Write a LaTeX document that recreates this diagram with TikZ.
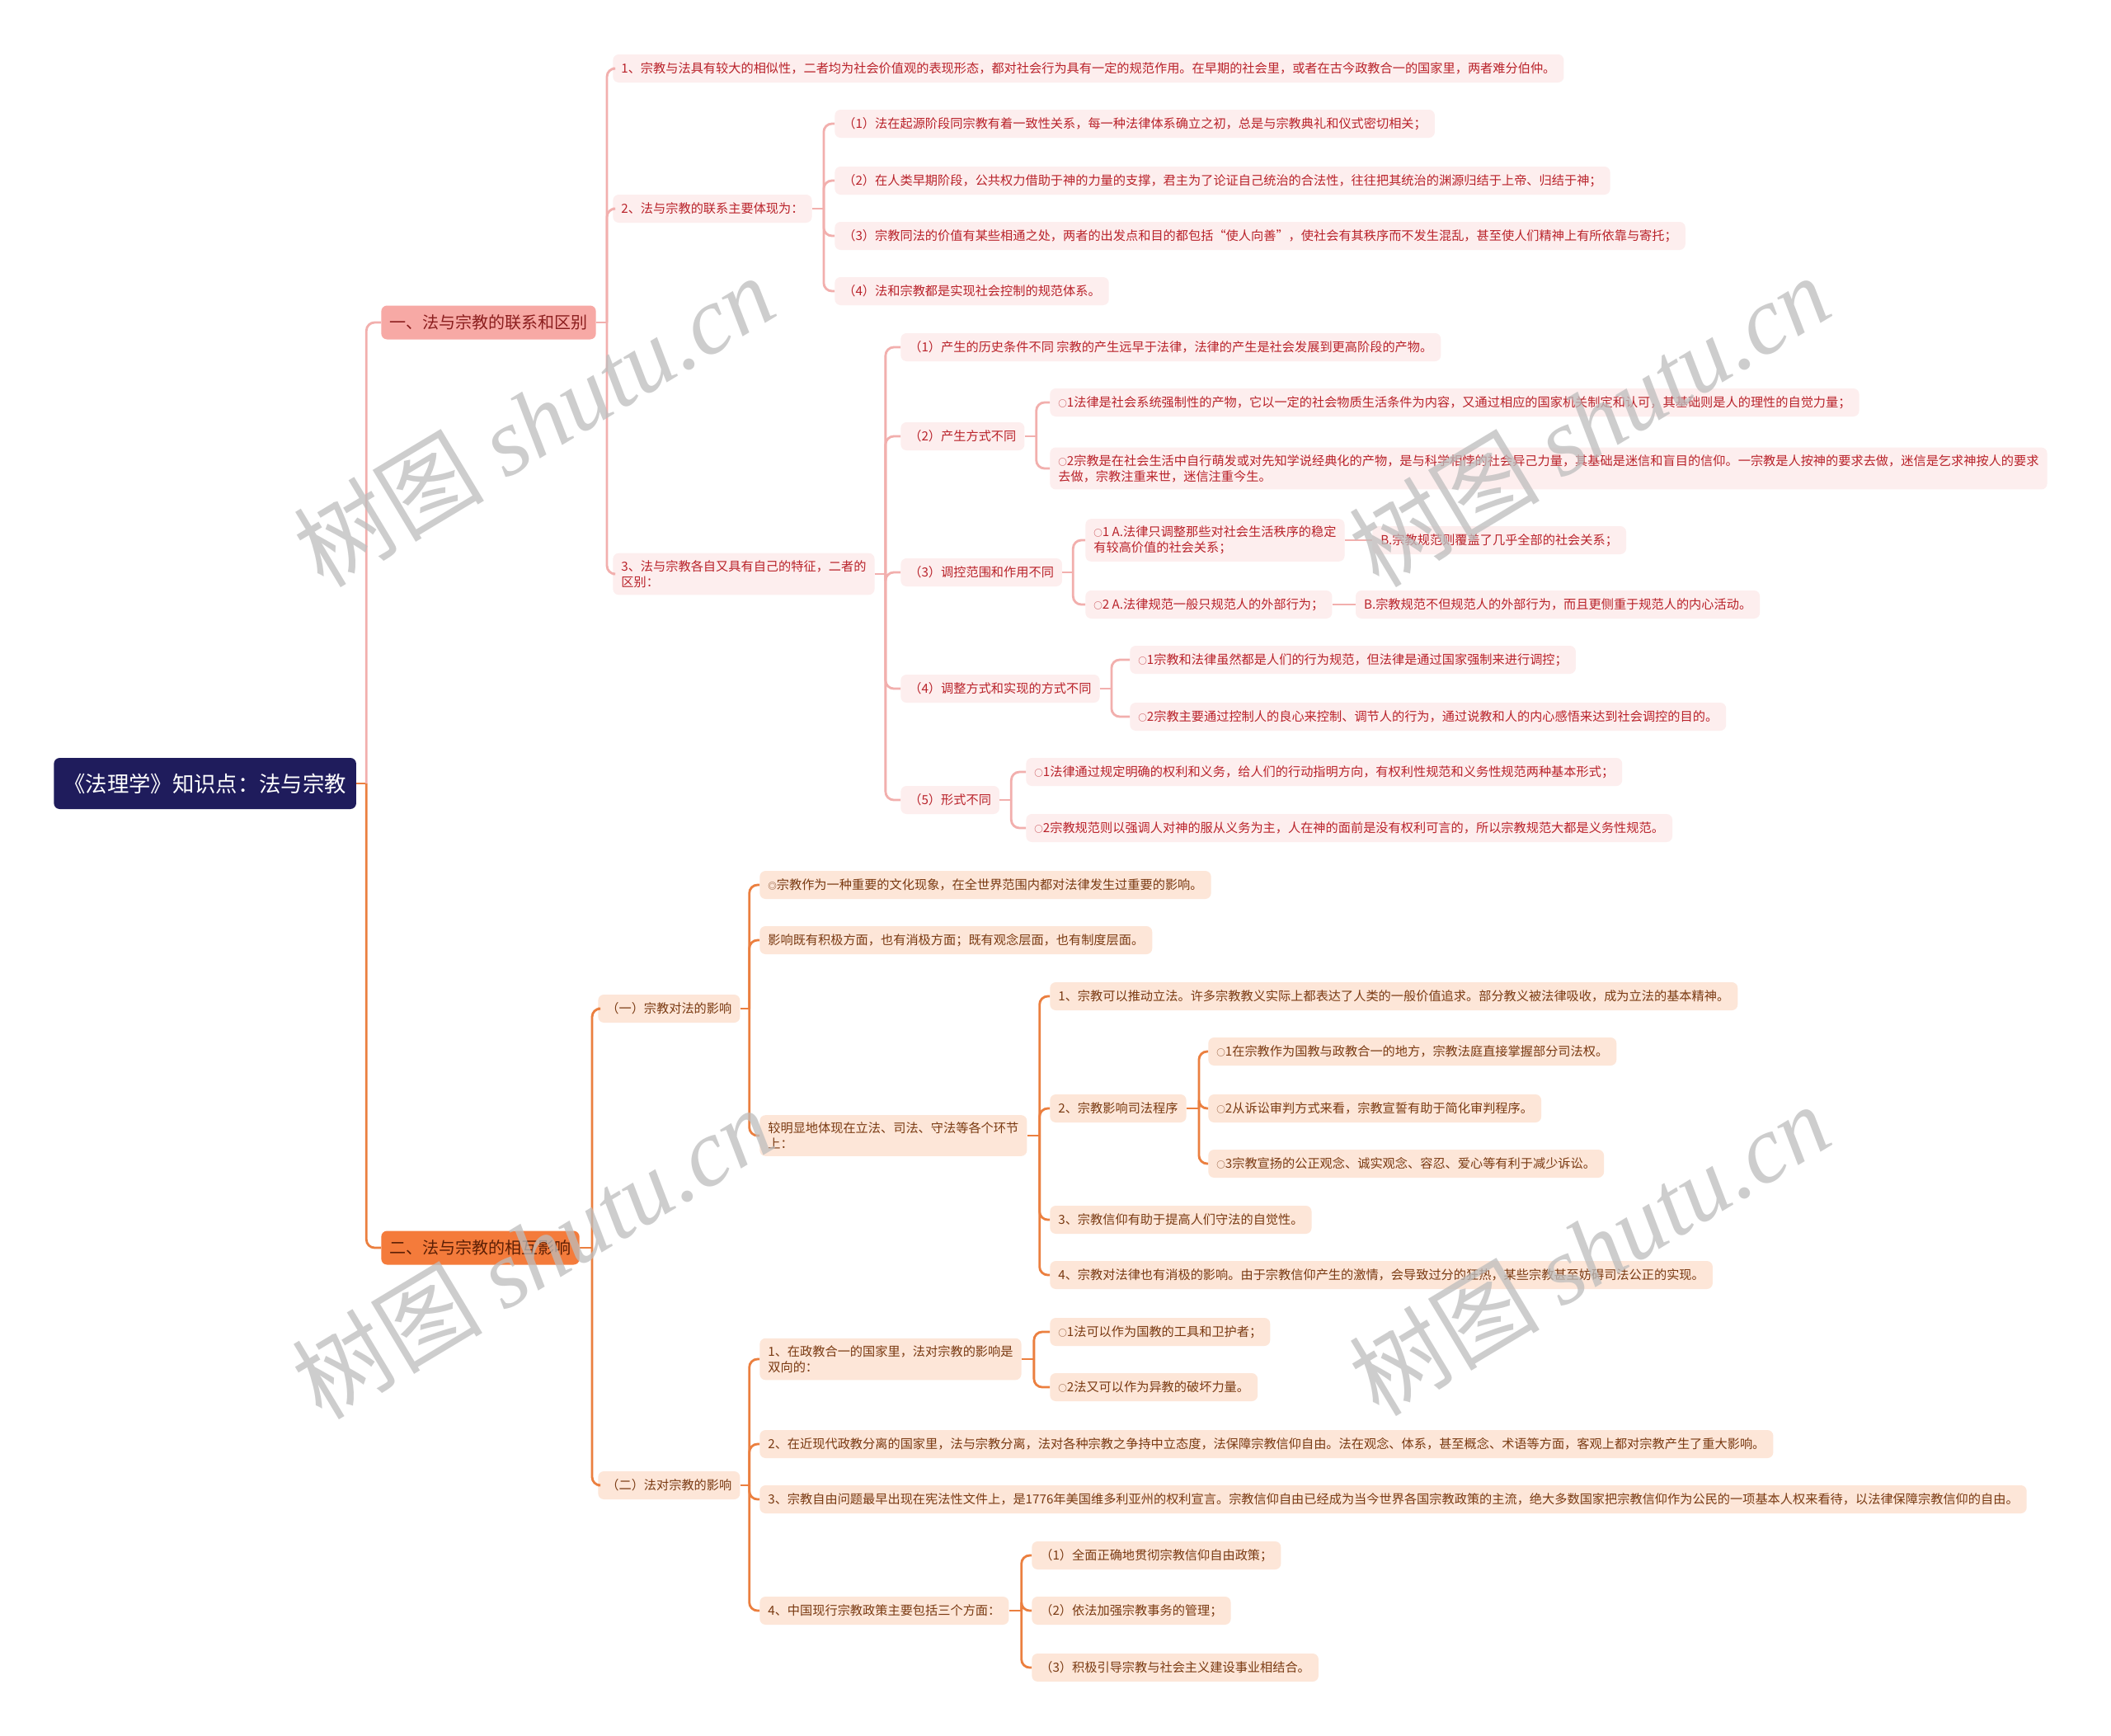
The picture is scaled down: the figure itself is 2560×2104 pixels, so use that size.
\documentclass[tikz,border=0pt]{standalone}
\usepackage{fontspec}
\setmainfont{Noto Sans CJK SC}
\newfontfamily\wmfont{Liberation Serif}
\usetikzlibrary{positioning}
\usepackage{xcolor}

\definecolor{rootnavy}{HTML}{1F1C5C}
\definecolor{topicpink}{HTML}{F7A9A5}
\definecolor{topicpinktext}{HTML}{8B1E1E}
\definecolor{leafpink}{HTML}{FDEEEE}
\definecolor{leafpinktext}{HTML}{B9222A}
\definecolor{linepink}{HTML}{F2AFAD}
\definecolor{topicorange}{HTML}{F47B3B}
\definecolor{topicorangetext}{HTML}{5C1F05}
\definecolor{leafpeach}{HTML}{FDE6D8}
\definecolor{leafpeachtext}{HTML}{7A3A12}
\definecolor{lineorange}{HTML}{EB7F3F}
\definecolor{wmgray}{HTML}{BDBDBD}

\newcommand\smallcirc{{\fontsize{6pt}{6pt}\selectfont ○}}

\begin{document}
\begin{tikzpicture}[
        x=0.02cm, y=-0.02cm,
        % box styles
        rootbox/.style={rectangle, rounded corners=4pt, fill=rootnavy, text=white, anchor=west, minimum height=1.24cm, inner xsep=0.24cm, font=\fontsize{15pt}{18pt}\selectfont},
        topicA/.style={rectangle, rounded corners=4pt, fill=topicpink, text=topicpinktext, anchor=west, minimum height=0.82cm, inner xsep=0.2cm, font=\fontsize{11.4pt}{14pt}\selectfont},
        topicB/.style={topicA, fill=topicorange, text=topicorangetext},
        leafA/.style={rectangle, rounded corners=4pt, fill=leafpink, text=leafpinktext, anchor=west, align=left, minimum height=0.68cm, inner xsep=0.2cm, inner ysep=0.17cm, font=\fontsize{8.65pt}{11pt}\selectfont},
        leafB/.style={leafA, fill=leafpeach, text=leafpeachtext},
        % connector styles
        lineA/.style={draw=linepink, line width=1.6pt, rounded corners=0.2cm},
        lineB/.style={draw=lineorange, line width=1.6pt, rounded corners=0.2cm},
        watermark/.style={text=wmgray, text opacity=0.75, rotate=31, font=\fontsize{66pt}{70pt}\selectfont}
    ]

    \fill[white] (0,0) rectangle (2560,2104);
    \useasboundingbox (0,0) rectangle (2560,2104);

    % Root and main topics
    \node[rootbox] (root) at (65,950) {《法理学》知识点：法与宗教};
    \node[topicA] (ta) at (462,391) {一、法与宗教的联系和区别};
    \node[topicB] (tb) at (462,1513) {二、法与宗教的相互影响};

    \draw[lineB] (root.east) -- ++(12,0) coordinate (root_bus);
    \draw[lineA] (root_bus) |- (ta.west);
    \draw[lineB] (root_bus) |- (tb.west);

    % ==========================================
    % 一、联系和区别
    % ==========================================
    \node[leafA] (a1) at (743,83) {1、宗教与法具有较大的相似性，二者均为社会价值观的表现形态，都对社会行为具有一定的规范作用。在早期的社会里，或者在古今政教合一的国家里，两者难分伯仲。};
    \node[leafA] (a2) at (743,253) {2、法与宗教的联系主要体现为：};
    \node[leafA] (a3) at (743,696) {3、法与宗教各自又具有自己的特征，二者的\\区别：};

    \draw[lineA] (ta.east) -- ++(13,0) coordinate (ta_bus);
    \draw[lineA] (ta_bus) |- (a1.west);
    \draw[lineA] (ta_bus) |- (a2.west);
    \draw[lineA] (ta_bus) |- (a3.west);

    % 联系
    \node[leafA] (a2a) at (1012,150) {（1）法在起源阶段同宗教有着一致性关系，每一种法律体系确立之初，总是与宗教典礼和仪式密切相关；};
    \node[leafA] (a2b) at (1012,219) {（2）在人类早期阶段，公共权力借助于神的力量的支撑，君主为了论证自己统治的合法性，往往把其统治的渊源归结于上帝、归结于神；};
    \node[leafA] (a2c) at (1012,286) {（3）宗教同法的价值有某些相通之处，两者的出发点和目的都包括“使人向善”，使社会有其秩序而不发生混乱，甚至使人们精神上有所依靠与寄托；};
    \node[leafA] (a2d) at (1012,353) {（4）法和宗教都是实现社会控制的规范体系。};

    \draw[lineA] (a2.east) -- ++(14,0) coordinate (a2_bus);
    \draw[lineA] (a2_bus) |- (a2a.west);
    \draw[lineA] (a2_bus) |- (a2b.west);
    \draw[lineA] (a2_bus) |- (a2c.west);
    \draw[lineA] (a2_bus) |- (a2d.west);

    % 区别
    \node[leafA] (a3a) at (1092,421) {（1）产生的历史条件不同 宗教的产生远早于法律，法律的产生是社会发展到更高阶段的产物。};
    \node[leafA] (a3b) at (1092,529) {（2）产生方式不同};
    \node[leafA] (a3c) at (1092,694) {（3）调控范围和作用不同};
    \node[leafA] (a3d) at (1092,835) {（4）调整方式和实现的方式不同};
    \node[leafA] (a3e) at (1092,970) {（5）形式不同};

    \draw[lineA] (a3.east) -- ++(13,0) coordinate (a3_bus);
    \draw[lineA] (a3_bus) |- (a3a.west);
    \draw[lineA] (a3_bus) |- (a3b.west);
    \draw[lineA] (a3_bus) |- (a3c.west);
    \draw[lineA] (a3_bus) |- (a3d.west);
    \draw[lineA] (a3_bus) |- (a3e.west);

    \node[leafA] (a3b1) at (1273,488) {\smallcirc1法律是社会系统强制性的产物，它以一定的社会物质生活条件为内容，又通过相应的国家机关制定和认可，其基础则是人的理性的自觉力量；};
    \node[leafA] (a3b2) at (1273,568) {\smallcirc2宗教是在社会生活中自行萌发或对先知学说经典化的产物，是与科学相悖的社会异己力量，其基础是迷信和盲目的信仰。一宗教是人按神的要求去做，迷信是乞求神按人的要求\\去做，宗教注重来世，迷信注重今生。};
    \draw[lineA] (a3b.east) -- ++(14,0) coordinate (a3b_bus);
    \draw[lineA] (a3b_bus) |- (a3b1.west);
    \draw[lineA] (a3b_bus) |- (a3b2.west);

    \node[leafA] (a3c1) at (1316,655) {\smallcirc1 A.法律只调整那些对社会生活秩序的稳定\\有较高价值的社会关系；};
    \node[leafA, right=0.66cm of a3c1] (a3c1b) {B.宗教规范则覆盖了几乎全部的社会关系；};
    \node[leafA] (a3c2) at (1316,733) {\smallcirc2 A.法律规范一般只规范人的外部行为；};
    \node[leafA, right=0.56cm of a3c2] (a3c2b) {B.宗教规范不但规范人的外部行为，而且更侧重于规范人的内心活动。};
    \draw[lineA] (a3c.east) -- ++(13,0) coordinate (a3c_bus);
    \draw[lineA] (a3c_bus) |- (a3c1.west);
    \draw[lineA] (a3c_bus) |- (a3c2.west);
    \draw[lineA] (a3c1) -- (a3c1b);
    \draw[lineA] (a3c2) -- (a3c2b);

    \node[leafA] (a3d1) at (1370,800) {\smallcirc1宗教和法律虽然都是人们的行为规范，但法律是通过国家强制来进行调控；};
    \node[leafA] (a3d2) at (1370,869) {\smallcirc2宗教主要通过控制人的良心来控制、调节人的行为，通过说教和人的内心感悟来达到社会调控的目的。};
    \draw[lineA] (a3d.east) -- ++(14,0) coordinate (a3d_bus);
    \draw[lineA] (a3d_bus) |- (a3d1.west);
    \draw[lineA] (a3d_bus) |- (a3d2.west);

    \node[leafA] (a3e1) at (1244,936) {\smallcirc1法律通过规定明确的权利和义务，给人们的行动指明方向，有权利性规范和义务性规范两种基本形式；};
    \node[leafA] (a3e2) at (1244,1004) {\smallcirc2宗教规范则以强调人对神的服从义务为主，人在神的面前是没有权利可言的，所以宗教规范大都是义务性规范。};
    \draw[lineA] (a3e.east) -- ++(14,0) coordinate (a3e_bus);
    \draw[lineA] (a3e_bus) |- (a3e1.west);
    \draw[lineA] (a3e_bus) |- (a3e2.west);

    % ==========================================
    % 二、相互影响
    % ==========================================
    \node[leafB] (b1) at (725,1223) {（一）宗教对法的影响};
    \node[leafB] (b2) at (725,1801) {（二）法对宗教的影响};

    \draw[lineB] (tb.east) -- ++(15,0) coordinate (tb_bus);
    \draw[lineB] (tb_bus) |- (b1.west);
    \draw[lineB] (tb_bus) |- (b2.west);

    % 宗教对法
    \node[leafB] (b1a) at (921,1073) {{\fontsize{6pt}{6pt}\selectfont ◎}宗教作为一种重要的文化现象，在全世界范围内都对法律发生过重要的影响。};
    \node[leafB] (b1b) at (921,1140) {影响既有积极方面，也有消极方面；既有观念层面，也有制度层面。};
    \node[leafB] (b1c) at (921,1377) {较明显地体现在立法、司法、守法等各个环节\\上：};

    \draw[lineB] (b1.east) -- ++(11,0) coordinate (b1_bus);
    \draw[lineB] (b1_bus) |- (b1a.west);
    \draw[lineB] (b1_bus) |- (b1b.west);
    \draw[lineB] (b1_bus) |- (b1c.west);

    \node[leafB] (b1c1) at (1273,1208) {1、宗教可以推动立法。许多宗教教义实际上都表达了人类的一般价值追求。部分教义被法律吸收，成为立法的基本精神。};
    \node[leafB] (b1c2) at (1273,1344) {2、宗教影响司法程序};
    \node[leafB] (b1c3) at (1273,1479) {3、宗教信仰有助于提高人们守法的自觉性。};
    \node[leafB] (b1c4) at (1273,1546) {4、宗教对法律也有消极的影响。由于宗教信仰产生的激情，会导致过分的狂热，某些宗教甚至妨碍司法公正的实现。};

    \draw[lineB] (b1c.east) -- ++(15,0) coordinate (b1c_bus);
    \draw[lineB] (b1c_bus) |- (b1c1.west);
    \draw[lineB] (b1c_bus) |- (b1c2.west);
    \draw[lineB] (b1c_bus) |- (b1c3.west);
    \draw[lineB] (b1c_bus) |- (b1c4.west);

    \node[leafB] (b1c2a) at (1465,1275) {\smallcirc1在宗教作为国教与政教合一的地方，宗教法庭直接掌握部分司法权。};
    \node[leafB] (b1c2b) at (1465,1344) {\smallcirc2从诉讼审判方式来看，宗教宣誓有助于简化审判程序。};
    \node[leafB] (b1c2c) at (1465,1411) {\smallcirc3宗教宣扬的公正观念、诚实观念、容忍、爱心等有利于减少诉讼。};

    \draw[lineB] (b1c2.east) -- ++(15,0) coordinate (b1c2_bus);
    \draw[lineB] (b1c2_bus) |- (b1c2a.west);
    \draw[lineB] (b1c2_bus) |- (b1c2b.west);
    \draw[lineB] (b1c2_bus) |- (b1c2c.west);

    % 法对宗教
    \node[leafB] (b2a) at (921,1648) {1、在政教合一的国家里，法对宗教的影响是\\双向的：};
    \node[leafB] (b2b) at (921,1751) {2、在近现代政教分离的国家里，法与宗教分离，法对各种宗教之争持中立态度，法保障宗教信仰自由。法在观念、体系，甚至概念、术语等方面，客观上都对宗教产生了重大影响。};
    \node[leafB] (b2c) at (921,1818) {3、宗教自由问题最早出现在宪法性文件上，是1776年美国维多利亚州的权利宣言。宗教信仰自由已经成为当今世界各国宗教政策的主流，绝大多数国家把宗教信仰作为公民的一项基本人权来看待，以法律保障宗教信仰的自由。};
    \node[leafB] (b2d) at (921,1953) {4、中国现行宗教政策主要包括三个方面：};

    \draw[lineB] (b2.east) -- ++(11,0) coordinate (b2_bus);
    \draw[lineB] (b2_bus) |- (b2a.west);
    \draw[lineB] (b2_bus) |- (b2b.west);
    \draw[lineB] (b2_bus) |- (b2c.west);
    \draw[lineB] (b2_bus) |- (b2d.west);

    \node[leafB] (b2a1) at (1273,1615) {\smallcirc1法可以作为国教的工具和卫护者；};
    \node[leafB] (b2a2) at (1273,1682) {\smallcirc2法又可以作为异教的破坏力量。};
    \draw[lineB] (b2a.east) -- ++(15,0) coordinate (b2a_bus);
    \draw[lineB] (b2a_bus) |- (b2a1.west);
    \draw[lineB] (b2a_bus) |- (b2a2.west);

    \node[leafB] (b2d1) at (1251,1886) {（1）全面正确地贯彻宗教信仰自由政策；};
    \node[leafB] (b2d2) at (1251,1953) {（2）依法加强宗教事务的管理；};
    \node[leafB] (b2d3) at (1251,2022) {（3）积极引导宗教与社会主义建设事业相结合。};
    \draw[lineB] (b2d.east) -- ++(15,0) coordinate (b2d_bus);
    \draw[lineB] (b2d_bus) |- (b2d1.west);
    \draw[lineB] (b2d_bus) |- (b2d2.west);
    \draw[lineB] (b2d_bus) |- (b2d3.west);

    % Watermarks
    \node[watermark] (wm1) at (647,510) {树图 {\wmfont\itshape shutu.cn}};
    \node[watermark] (wm2) at (1927,510) {树图 {\wmfont\itshape shutu.cn}};
    \node[watermark] (wm3) at (645,1519) {树图 {\wmfont\itshape shutu.cn}};
    \node[watermark] (wm4) at (1927,1515) {树图 {\wmfont\itshape shutu.cn}};

\end{tikzpicture}
\end{document}
